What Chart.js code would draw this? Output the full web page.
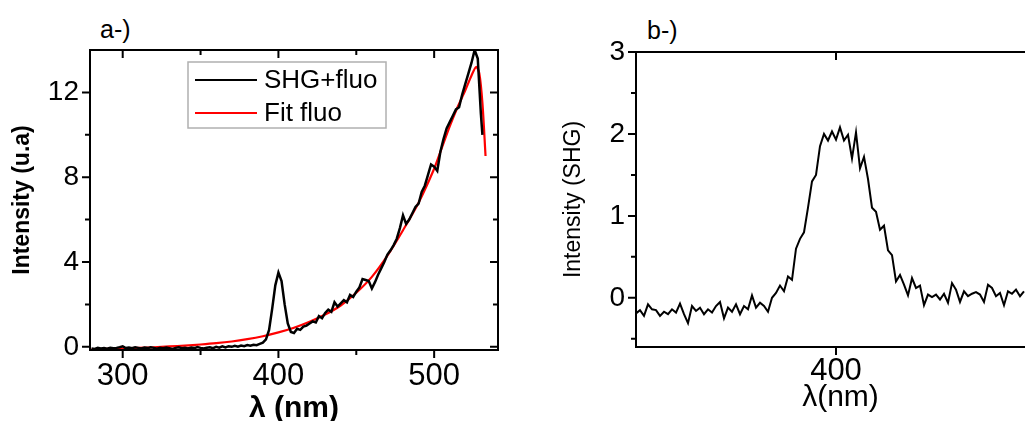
<!DOCTYPE html>
<html>
<head>
<meta charset="utf-8">
<script src="https://cdn.jsdelivr.net/npm/chart.js@4.4.1/dist/chart.umd.min.js"></script>
<style>
  html, body { margin: 0; padding: 0; background: #fff; overflow: hidden; width: 1025px; height: 421px; }
  canvas { position: absolute; top: 0; }
  #left { left: 0; }
  #right { left: 520px; }
  .tag { position: absolute; font-family: 'Liberation Sans', Arial, sans-serif; font-size: 25px; color: #000; }
</style>
</head>
<body>
<div class="tag" style="left:100px;top:15px">a-)</div>
<div class="tag" style="left:647px;top:16px">b-)</div>
<canvas id="left" width="520" height="440"></canvas>
<canvas id="right" width="530" height="440"></canvas>
<script>
// panel a: measured spectrum (SHG + fluorescence)
const mixNm = [280,282,284,286,288,290,292,294,296,298,300,302,304,306,308,310,312,314,316,318,
  320,322,324,326,328,330,332,334,336,338,340,342,344,346,348,350,352,354,356,358,
  360,362,364,366,368,370,372,374,376,378,380,382,384,386,388,390,392,394,396,398,
  400,402,404,406,408,410,412,414,416,418,420,422,424,426,428,430,432,434,436,438,
  440,442,444,446,448,450,452,454,456,458,460,462,464,466,468,470,472,474,476,478,
  480,482,484,486,488,490,492,494,496,498,500,502,504,506,508,510,512,514,516,518,
  520,522,524,526,528,530,531];
const mixVal = [-0.08,-0.10,-0.05,-0.08,-0.06,-0.09,-0.04,-0.07,-0.05,-0.02,0.02,-0.06,-0.03,-0.07,-0.02,-0.05,-0.08,-0.03,-0.06,-0.02,
  -0.05,-0.09,-0.04,-0.07,-0.03,-0.06,-0.10,-0.05,-0.02,-0.07,-0.04,-0.08,-0.03,-0.06,-0.01,-0.05,-0.08,-0.04,-0.02,-0.06,
  0.00,-0.04,0.02,-0.03,0.03,0.00,0.05,0.01,0.06,0.03,0.08,0.05,0.10,0.08,0.14,0.20,0.35,0.80,1.80,2.90,
  3.50,3.10,2.00,1.10,0.70,0.65,0.85,0.80,0.95,1.00,1.10,1.20,1.15,1.45,1.35,1.60,1.75,1.65,2.10,1.90,
  2.05,2.20,2.10,2.45,2.35,2.60,2.80,3.20,3.15,3.10,2.75,3.05,3.40,3.70,4.00,4.35,4.55,4.80,5.10,5.60,
  6.20,5.80,6.00,6.30,6.60,6.75,7.30,7.60,8.10,8.60,8.50,8.30,9.20,9.80,10.30,10.60,10.90,11.20,11.30,11.90,
  12.40,12.90,13.40,14.00,13.60,11.00,10.00];

// panel a: fluorescence fit
const fitNm = [280,290,300,310,320,330,340,350,360,370,380,390,400,410,420,430,440,450,460,470,
  480,490,500,505,510,515,520,524,527,529,531,533];
const fitVal = [-0.12,-0.10,-0.08,-0.05,-0.02,0.02,0.06,0.11,0.17,0.25,0.36,0.50,0.68,0.90,1.18,1.52,1.95,2.55,3.30,4.30,
  5.50,6.80,8.40,9.40,10.40,11.30,12.10,12.80,13.20,12.90,11.50,9.00];

// panel b: SHG only
const shgNm = [350,351,352,353,354,355,356,357,358,359,360,361,362,363,364,365,366,367,368,369,
  370,371,372,373,374,375,376,377,378,379,380,381,382,383,384,385,386,387,388,389,
  390,391,392,393,394,395,396,397,398,399,400,401,402,403,404,405,406,407,408,409,
  410,411,412,413,414,415,416,417,418,419,420,421,422,423,424,425,426,427,428,429,
  430,431,432,433,434,435,436,437,438,439,440,441,442,443,444,445,446,447];
const shgVal = [-0.19,-0.15,-0.22,-0.08,-0.14,-0.15,-0.22,-0.17,-0.20,-0.14,-0.18,-0.07,-0.20,-0.31,-0.10,-0.16,-0.12,-0.20,-0.14,-0.18,
  -0.10,-0.05,-0.25,-0.12,-0.17,-0.08,-0.20,-0.10,-0.14,0.03,-0.12,-0.06,-0.10,-0.17,0.00,0.06,0.15,0.08,0.26,0.22,
  0.60,0.72,0.80,1.10,1.42,1.50,1.85,2.00,1.92,2.03,1.93,2.08,1.92,1.99,1.70,2.02,1.58,1.72,1.45,1.10,
  1.05,0.83,0.88,0.58,0.52,0.20,0.28,0.16,0.03,0.24,0.12,0.15,-0.09,0.04,0.01,0.04,-0.02,0.05,-0.06,0.18,
  0.10,-0.05,0.08,0.02,0.05,0.07,0.04,-0.05,0.16,0.12,0.02,0.06,-0.09,0.08,0.05,0.10,0.02,0.08];

// tick values
const aXMajor = [300, 400, 500];
const aXMinor = [350, 450];
const aYMajor = [0, 4, 8, 12];
const aYMinor = [2, 6, 10];
const bXMajor = [400];
const bXMinor = [];
const bYMajor = [0, 1, 2, 3];
const bYMinor = [-0.5, 0.5, 1.5, 2.5];

const toPts = (xs, ys) => xs.map((v, i) => ({ x: v, y: ys[i] }));

Chart.defaults.font.family = "'Liberation Sans', Arial, sans-serif";
Chart.defaults.color = '#000';

// origin-style frame: outward ticks on bottom/left, inward mirrored ticks on top/right
const framePlugin = {
  id: 'frame',
  afterDatasetsDraw(chart, args, o) {
    const { ctx, chartArea: a } = chart;
    const x = chart.scales.x, y = chart.scales.y;
    ctx.save();
    ctx.strokeStyle = '#000';
    ctx.lineWidth = 2;
    ctx.strokeRect(a.left, a.top, a.right - a.left, a.bottom - a.top);
    ctx.beginPath();
    const xt = (vals, len) => vals.forEach(v => {
      const p = x.getPixelForValue(v);
      ctx.moveTo(p, a.bottom); ctx.lineTo(p, a.bottom + len);
      ctx.moveTo(p, a.top); ctx.lineTo(p, a.top + len);
    });
    const yt = (vals, len) => vals.forEach(v => {
      const p = y.getPixelForValue(v);
      ctx.moveTo(a.left, p); ctx.lineTo(a.left - len, p);
      ctx.moveTo(a.right, p); ctx.lineTo(a.right - len, p);
    });
    xt(o.xMajor, 8); xt(o.xMinor, 5);
    yt(o.yMajor, 8); yt(o.yMinor, 5);
    ctx.stroke();
    ctx.restore();
  }
};

// boxed legend inside the plot
const boxLegend = {
  id: 'boxLegend',
  afterDraw(chart, args, o) {
    if (!o.show) return;
    const ctx = chart.ctx;
    ctx.save();
    ctx.strokeStyle = '#b0b0b0';
    ctx.lineWidth = 1.5;
    ctx.strokeRect(o.left, o.top, o.width, o.height);
    ctx.font = "26px 'Liberation Sans', Arial, sans-serif";
    ctx.textBaseline = 'middle';
    chart.data.datasets.forEach((ds, i) => {
      const cy = o.top + 18 + i * 33;
      ctx.strokeStyle = ds.borderColor;
      ctx.lineWidth = 2;
      ctx.beginPath();
      ctx.moveTo(o.left + 7, cy); ctx.lineTo(o.left + 69, cy);
      ctx.stroke();
      ctx.fillStyle = '#000';
      ctx.fillText(ds.label, o.left + 76, cy + 1);
    });
    ctx.restore();
  }
};

function axisX(min, max, major, h, title, titleFont, labPad, titlePad) {
  return {
    type: 'linear', min: min, max: max,
    afterBuildTicks: s => { s.ticks = major.map(v => ({ value: v })); },
    afterFit: s => { s.height = h; },
    grid: { display: false, drawTicks: true, tickLength: 8 },
    border: { display: false },
    ticks: { font: { size: 31 }, padding: labPad, color: '#000', autoSkip: false, maxRotation: 0 },
    title: { display: true, text: title, font: titleFont, color: '#000', padding: { top: 0, bottom: titlePad } }
  };
}
function axisY(min, max, major, w, title, titleFont, titlePad) {
  return {
    type: 'linear', min: min, max: max,
    afterBuildTicks: s => { s.ticks = major.map(v => ({ value: v })); },
    afterFit: s => { s.width = w; },
    grid: { display: false, drawTicks: true, tickLength: 8 },
    border: { display: false },
    ticks: { font: { size: 28 }, padding: 3, color: '#000', autoSkip: false },
    title: { display: true, text: title, font: titleFont, color: '#000', padding: { top: titlePad, bottom: 0 } }
  };
}

new Chart(document.getElementById('left'), {
  type: 'line',
  data: {
    datasets: [
      { label: 'SHG+fluo', data: toPts(mixNm, mixVal), borderColor: '#000000', borderWidth: 2.5, pointRadius: 0, tension: 0 },
      { label: 'Fit fluo', data: toPts(fitNm, fitVal), borderColor: '#ff0000', borderWidth: 2.2, pointRadius: 0, tension: 0.3 }
    ]
  },
  options: {
    responsive: false, animation: false,
    layout: { padding: { top: 50, right: 22, left: 0, bottom: 0 } },
    plugins: {
      legend: { display: false }, tooltip: { enabled: false },
      frame: { xMajor: aXMajor, xMinor: aXMinor, yMajor: aYMajor, yMinor: aYMinor },
      boxLegend: { show: true, left: 188, top: 62, width: 198, height: 66 }
    },
    scales: {
      x: axisX(279, 541, aXMajor, 90, 'λ (nm)', { size: 30, weight: 'bold' }, 0, 13),
      y: axisY(-0.15, 14, aYMajor, 90, 'Intensity (u.a)', { size: 23, weight: 'bold' }, 9)
    }
  },
  plugins: [framePlugin, boxLegend]
});

new Chart(document.getElementById('right'), {
  type: 'line',
  data: {
    datasets: [
      { label: 'SHG', data: toPts(shgNm, shgVal), borderColor: '#000000', borderWidth: 2, pointRadius: 0, tension: 0 }
    ]
  },
  options: {
    responsive: false, animation: false,
    layout: { padding: { top: 52, right: 5, left: 0, bottom: 0 } },
    plugins: {
      legend: { display: false }, tooltip: { enabled: false },
      frame: { xMajor: bXMajor, xMinor: bXMinor, yMajor: bYMajor, yMinor: bYMinor },
      boxLegend: { show: false }
    },
    scales: {
      x: axisX(350, 452.25, bXMajor, 93, 'λ(nm)', { size: 30 }, -2, 24),
      y: axisY(-0.6, 3, bYMajor, 116, 'Intensity (SHG)', { size: 23 }, 40)
    }
  },
  plugins: [framePlugin, boxLegend]
});
</script>
</body>
</html>
